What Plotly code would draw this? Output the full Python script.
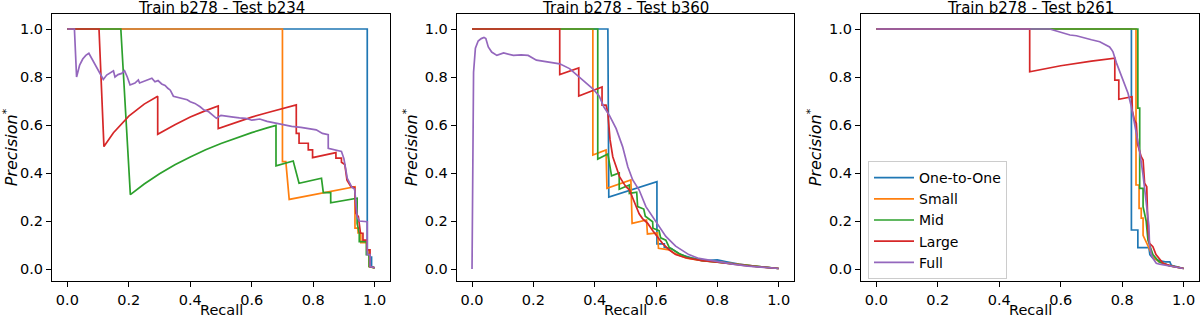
import plotly.graph_objects as go

# ---------------- data ----------------
series_names = ["One-to-One", "Small", "Mid", "Large", "Full"]
panel_titles = ["Train b278 - Test b234", "Train b278 - Test b360", "Train b278 - Test b261"]
x_label = "Recall"
y_label = "<i>Precision</i><sup>*</sup>"
tick_values = [0.0, 0.2, 0.4, 0.6, 0.8, 1.0]

# Panel 1: Train b278 - Test b234
p1_one_r = [0.0, 0.976, 0.976, 0.982, 0.982, 0.99, 0.99, 1.0]
p1_one_p = [1.0, 1.0, 0.08, 0.08, 0.05, 0.05, 0.01, 0.005]
p1_small_r = [0.0, 0.700, 0.700, 0.711, 0.722, 0.936, 0.936, 0.946, 0.946, 0.955, 0.955, 0.975, 0.975, 0.982, 0.982, 1.0]
p1_small_p = [1.0, 1.0, 0.447, 0.447, 0.29, 0.343, 0.17, 0.17, 0.15, 0.15, 0.11, 0.11, 0.08, 0.08, 0.01, 0.005]
p1_mid_r = [0.0, 0.174, 0.205, 0.25, 0.3, 0.35, 0.4, 0.45, 0.5, 0.55, 0.6, 0.65, 0.679, 0.679, 0.735, 0.754, 0.827, 0.833, 0.857, 0.857, 0.943, 0.943, 0.95, 0.95, 0.96, 0.973, 0.973, 0.982, 0.982, 1.0]
p1_mid_p = [1.0, 1.0, 0.31, 0.354, 0.397, 0.434, 0.467, 0.497, 0.523, 0.547, 0.568, 0.588, 0.598, 0.43, 0.45, 0.357, 0.378, 0.318, 0.318, 0.276, 0.295, 0.19, 0.15, 0.114, 0.114, 0.114, 0.06, 0.06, 0.01, 0.005]
p1_large_r = [0.0, 0.103, 0.119, 0.15, 0.2, 0.25, 0.294, 0.294, 0.35, 0.4, 0.45, 0.491, 0.491, 0.55, 0.6, 0.65, 0.7, 0.745, 0.745, 0.754, 0.754, 0.784, 0.784, 0.798, 0.798, 0.874, 0.874, 0.892, 0.892, 0.903, 0.91, 0.923, 0.935, 0.939, 0.947, 0.954, 0.962, 0.962, 0.975, 0.975, 0.985, 0.985, 1.0]
p1_large_p = [1.0, 1.0, 0.51, 0.568, 0.637, 0.687, 0.72, 0.561, 0.601, 0.633, 0.66, 0.679, 0.585, 0.612, 0.633, 0.651, 0.668, 0.684, 0.565, 0.565, 0.524, 0.524, 0.496, 0.496, 0.464, 0.485, 0.462, 0.462, 0.445, 0.435, 0.37, 0.343, 0.34, 0.232, 0.218, 0.149, 0.149, 0.12, 0.12, 0.08, 0.08, 0.01, 0.005]
p1_full_r = [0.0, 0.023, 0.030, 0.040, 0.050, 0.060, 0.070, 0.090, 0.117, 0.128, 0.150, 0.155, 0.165, 0.177, 0.186, 0.195, 0.204, 0.220, 0.231, 0.235, 0.255, 0.275, 0.285, 0.295, 0.307, 0.318, 0.327, 0.335, 0.345, 0.36, 0.378, 0.39, 0.40, 0.415, 0.432, 0.445, 0.46, 0.485, 0.50, 0.52, 0.54, 0.56, 0.58, 0.60, 0.626, 0.65, 0.68, 0.70, 0.73, 0.76, 0.79, 0.81, 0.83, 0.849, 0.849, 0.87, 0.892, 0.90, 0.911, 0.926, 0.935, 0.943, 0.95, 0.976, 0.976, 0.985, 0.985, 1.0]
p1_full_p = [1.0, 1.0, 0.80, 0.85, 0.875, 0.89, 0.899, 0.85, 0.79, 0.808, 0.826, 0.80, 0.81, 0.815, 0.826, 0.80, 0.767, 0.775, 0.788, 0.775, 0.785, 0.795, 0.78, 0.785, 0.771, 0.765, 0.753, 0.745, 0.72, 0.715, 0.711, 0.705, 0.697, 0.69, 0.676, 0.662, 0.655, 0.628, 0.64, 0.635, 0.633, 0.63, 0.628, 0.62, 0.625, 0.615, 0.607, 0.60, 0.594, 0.59, 0.585, 0.58, 0.565, 0.56, 0.503, 0.497, 0.49, 0.46, 0.378, 0.34, 0.333, 0.218, 0.20, 0.197, 0.06, 0.06, 0.01, 0.005]

# Panel 2: Train b278 - Test b360
p2_one_r = [0.0, 0.443, 0.446, 0.603, 0.603, 0.627, 0.627, 0.65, 0.68, 0.72, 0.76, 0.80, 0.83, 0.87, 0.92, 1.0]
p2_one_p = [1.0, 1.0, 0.30, 0.364, 0.105, 0.105, 0.09, 0.085, 0.06, 0.045, 0.035, 0.038, 0.03, 0.02, 0.012, 0.002]
p2_small_r = [0.0, 0.394, 0.394, 0.437, 0.440, 0.518, 0.522, 0.569, 0.572, 0.605, 0.608, 0.643, 0.66, 0.70, 0.75, 0.8, 0.9, 1.0]
p2_small_p = [1.0, 1.0, 0.475, 0.496, 0.336, 0.371, 0.19, 0.204, 0.146, 0.15, 0.086, 0.08, 0.065, 0.045, 0.035, 0.03, 0.015, 0.002]
p2_mid_r = [0.0, 0.41, 0.41, 0.443, 0.455, 0.48, 0.48, 0.513, 0.513, 0.537, 0.54, 0.56, 0.565, 0.589, 0.59, 0.61, 0.615, 0.632, 0.643, 0.66, 0.675, 0.70, 0.75, 0.80, 0.90, 1.0]
p2_mid_p = [1.0, 1.0, 0.458, 0.479, 0.388, 0.40, 0.332, 0.35, 0.315, 0.32, 0.26, 0.25, 0.22, 0.197, 0.17, 0.16, 0.13, 0.12, 0.09, 0.075, 0.065, 0.05, 0.035, 0.028, 0.015, 0.002]
p2_large_r = [0.0, 0.286, 0.286, 0.348, 0.348, 0.424, 0.424, 0.437, 0.443, 0.448, 0.450, 0.459, 0.470, 0.481, 0.491, 0.502, 0.513, 0.524, 0.535, 0.545, 0.556, 0.573, 0.589, 0.605, 0.621, 0.643, 0.664, 0.697, 0.75, 0.80, 0.90, 1.0]
p2_large_p = [1.0, 1.0, 0.81, 0.8375, 0.721, 0.758, 0.683, 0.683, 0.649, 0.58, 0.54, 0.468, 0.426, 0.385, 0.364, 0.343, 0.33, 0.295, 0.26, 0.23, 0.21, 0.19, 0.16, 0.135, 0.107, 0.08, 0.06, 0.047, 0.035, 0.028, 0.013, 0.002]
p2_full_r = [0.0, 0.002, 0.005, 0.011, 0.02, 0.03, 0.039, 0.045, 0.053, 0.064, 0.081, 0.103, 0.135, 0.16, 0.183, 0.21, 0.25, 0.286, 0.318, 0.351, 0.394, 0.415, 0.43, 0.448, 0.47, 0.491, 0.508, 0.524, 0.545, 0.567, 0.589, 0.61, 0.632, 0.664, 0.707, 0.74, 0.8, 0.85, 0.9, 1.0]
p2_full_p = [0.0, 0.6, 0.82, 0.92, 0.95, 0.96, 0.965, 0.96, 0.925, 0.904, 0.89, 0.90, 0.89, 0.892, 0.89, 0.87, 0.862, 0.855, 0.835, 0.80, 0.751, 0.72, 0.675, 0.64, 0.585, 0.51, 0.426, 0.371, 0.329, 0.26, 0.219, 0.178, 0.136, 0.095, 0.06, 0.044, 0.03, 0.02, 0.012, 0.002]

# Panel 3: Train b278 - Test b261
p3_one_r = [0.0, 0.83, 0.83, 0.851, 0.851, 0.887, 0.89, 0.90, 0.92, 0.94, 0.955, 0.96, 1.0]
p3_one_p = [1.0, 1.0, 0.1625, 0.1625, 0.089, 0.089, 0.06, 0.045, 0.035, 0.03, 0.03, 0.015, 0.002]
p3_small_r = [0.0, 0.845, 0.845, 0.855, 0.855, 0.862, 0.862, 0.868, 0.868, 0.88, 0.89, 0.90, 0.92, 0.95, 1.0]
p3_small_p = [1.0, 1.0, 0.35, 0.35, 0.253, 0.253, 0.212, 0.212, 0.14, 0.11, 0.08, 0.05, 0.03, 0.015, 0.002]
p3_mid_r = [0.0, 0.851, 0.851, 0.857, 0.857, 0.868, 0.868, 0.878, 0.884, 0.889, 0.90, 0.92, 0.95, 1.0]
p3_mid_p = [1.0, 1.0, 0.67, 0.67, 0.336, 0.336, 0.26, 0.2, 0.12, 0.10, 0.06, 0.03, 0.015, 0.002]
p3_large_r = [0.0, 0.499, 0.499, 0.60, 0.70, 0.776, 0.776, 0.789, 0.789, 0.832, 0.833, 0.84, 0.846, 0.85, 0.862, 0.868, 0.873, 0.88, 0.884, 0.889, 0.90, 0.91, 0.933, 0.96, 1.0]
p3_large_p = [1.0, 1.0, 0.822, 0.847, 0.866, 0.878, 0.787, 0.787, 0.707, 0.718, 0.66, 0.62, 0.607, 0.52, 0.468, 0.454, 0.357, 0.343, 0.16, 0.107, 0.093, 0.06, 0.024, 0.012, 0.002]
p3_full_r = [0.0, 0.564, 0.575, 0.607, 0.63, 0.651, 0.683, 0.70, 0.727, 0.745, 0.759, 0.765, 0.770, 0.781, 0.79, 0.802, 0.819, 0.83, 0.841, 0.851, 0.857, 0.868, 0.879, 0.887, 0.889, 0.895, 0.90, 0.911, 0.922, 0.954, 1.0]
p3_full_p = [1.0, 1.0, 0.996, 0.982, 0.975, 0.972, 0.96, 0.955, 0.947, 0.935, 0.925, 0.915, 0.905, 0.86, 0.83, 0.787, 0.732, 0.676, 0.60, 0.52, 0.49, 0.39, 0.28, 0.18, 0.10, 0.06, 0.044, 0.024, 0.02, 0.012, 0.002]

panels = [
    [(p1_one_r, p1_one_p), (p1_small_r, p1_small_p), (p1_mid_r, p1_mid_p), (p1_large_r, p1_large_p), (p1_full_r, p1_full_p)],
    [(p2_one_r, p2_one_p), (p2_small_r, p2_small_p), (p2_mid_r, p2_mid_p), (p2_large_r, p2_large_p), (p2_full_r, p2_full_p)],
    [(p3_one_r, p3_one_p), (p3_small_r, p3_small_p), (p3_mid_r, p3_mid_p), (p3_large_r, p3_large_p), (p3_full_r, p3_full_p)],
]

# ---------------- style ----------------
colors = ["#1f77b4", "#ff7f0e", "#2ca02c", "#d62728", "#9467bd"]
FONT = "DejaVu Sans"
W, H = 1200, 318
ML, MR, MT, MB = 52, 1, 14, 37
panel_px = [(52, 390), (456.7, 794), (861, 1199)]
plot_w = W - ML - MR
plot_h = H - MT - MB

fig = go.Figure()
for i, series in enumerate(panels):
    ax = "" if i == 0 else str(i + 1)
    for j, (r, p) in enumerate(series):
        assert len(r) == len(p)
        fig.add_trace(go.Scatter(
            x=r, y=p, mode="lines", name=series_names[j],
            line=dict(color=colors[j], width=1.7),
            xaxis="x" + ax, yaxis="y" + ax,
            showlegend=(i == 2),
        ))

axis_common = dict(
    range=[-0.05, 1.05], tickvals=tick_values, tickformat=".1f",
    ticks="outside", ticklen=5, tickwidth=1, tickcolor="black",
    showline=True, linecolor="black", linewidth=1, mirror=True,
    showgrid=False, zeroline=False, automargin=False,
    tickfont=dict(family=FONT, size=14.5, color="black"),
)

layout = dict(
    width=W, height=H,
    margin=dict(l=ML, r=MR, t=MT, b=MB),
    paper_bgcolor="white", plot_bgcolor="white",
    font=dict(family=FONT, color="black"),
    legend=dict(
        x=(868 - ML) / plot_w, y=(H - MB - 161) / plot_h,
        xanchor="left", yanchor="top",
        bgcolor="white", bordercolor="#cccccc", borderwidth=1,
        font=dict(family=FONT, size=14, color="black"),
        traceorder="normal", itemwidth=40,
    ),
    annotations=[],
)

for i, (x0, x1) in enumerate(panel_px):
    ax = "" if i == 0 else str(i + 1)
    xc = ((x0 + x1) / 2 - ML) / plot_w
    xa = dict(axis_common)
    xa.update(domain=[(x0 - ML) / plot_w, (x1 - ML) / plot_w], anchor="y" + ax,
              ticklabelstandoff=1)
    ya = dict(axis_common)
    ya.update(domain=[0, 1], anchor="x" + ax, range=[-0.05, 1.0625],
              title=dict(text=y_label, font=dict(family=FONT, size=16, color="black"), standoff=3))
    layout["xaxis" + ax] = xa
    layout["yaxis" + ax] = ya
    # panel title
    layout["annotations"].append(dict(
        text=panel_titles[i], showarrow=False,
        xref="paper", yref="paper", x=xc, y=1.0,
        xanchor="center", yanchor="middle", yshift=MT - 7.5,
        font=dict(family=FONT, size=15, color="black"),
    ))
    # x-axis label
    layout["annotations"].append(dict(
        text=x_label, showarrow=False,
        xref="paper", yref="paper", x=xc, y=0.0,
        xanchor="center", yanchor="middle", yshift=-(310 - (H - MB)),
        font=dict(family=FONT, size=14.5, color="black"),
    ))

fig.update_layout(**layout)
fig.write_html(
    "out.html",
    config={"displayModeBar": False},
    post_script="document.body.style.margin='0px';document.body.style.padding='0px';",
)
